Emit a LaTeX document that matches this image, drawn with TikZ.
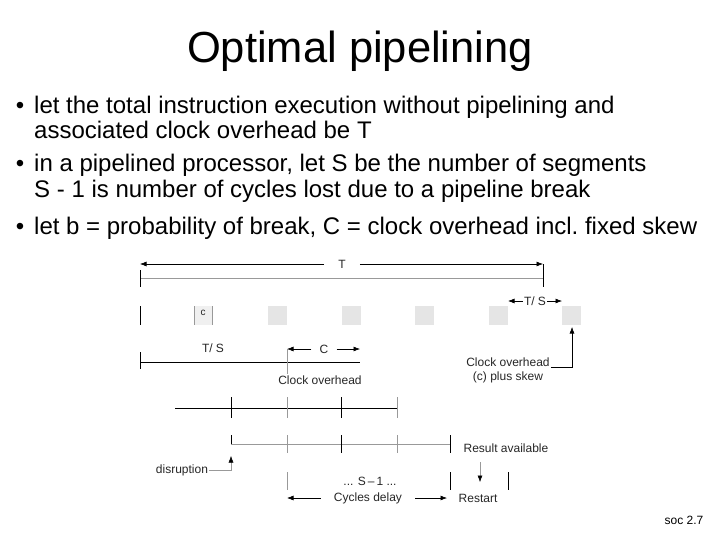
\documentclass[tikz,border=0pt]{standalone}
\usepackage{fontspec}
\setmainfont{Liberation Sans}
\usetikzlibrary{positioning,arrows.meta}
\begin{document}
\begin{tikzpicture}[x=1pt,y=-1pt,>={Latex[length=6.5pt,width=5pt]},
	bul/.style={anchor=base west,inner sep=0pt,font=\fontsize{24}{28}\selectfont},
	lbl/.style={inner sep=1pt,text=black!85,font=\fontsize{12}{14}\selectfont},
	tick/.style={line width=0.6pt},
	faint/.style={draw=black!40,line width=0.5pt},
	slot/.style={fill=black!10,draw=none}]
	\useasboundingbox (0,0) rectangle (720,540);

	\node[anchor=base,inner sep=0pt,font=\fontsize{43.5}{50}\selectfont] (title) at (360,63) {Optimal pipelining};

	\node[bul,anchor=base] (dot1) at (20,114) {•};
	\node[bul] (txt1) at (34,114) {let the total instruction execution without pipelining and};
	\node[bul] (txt2) at (34,139) {associated clock overhead be T};
	\node[bul,anchor=base] (dot2) at (20,172) {•};
	\node[bul] (txt3) at (34,172) {in a pipelined processor, let S be the number of segments};
	\node[bul] (txt4) at (34,197) {S - 1 is number of cycles lost due to a pipeline break};
	\node[bul,anchor=base] (dot3) at (20,235) {•};
	\node[bul] (txt5) at (34,235) {let b = probability of break, C = clock overhead incl.\ fixed skew};

	%total time T
	\coordinate (tL) at (140,264);
	\coordinate (tR) at (543,264);
	\node[lbl,fill=white,inner xsep=14pt] (tT) at (342,264) {T};
	\draw[tick,->] (tT) -- (tL);
	\draw[tick,->] (tT) -- (tR);
	\draw[faint] (140,278) -- (543,278);%grey time line
	\draw[tick] (140,270) -- (140,287);
	\draw[tick] (543,264) -- (543,287);

	%segments with clock overhead
	\draw[tick] (140,306) -- (140,325);
	\fill[black!6] (194,306) rectangle (212,325);
	\draw[faint] (194,306) -- (194,325);
	\draw[faint] (212,306) -- (212,325);
	\node[lbl,font=\fontsize{10}{12}\selectfont] (cbox) at (203,313) {c};
	\foreach \i in {0,...,4}
		\fill[slot] (268+73.5*\i,306) rectangle ++(19,19);

	%one segment
	\coordinate (sL) at (508,301);
	\coordinate (sR) at (562,301);
	\node[lbl] (tS) at (535,301) {T/ S};
	\draw[tick,->] (tS) -- (sL);
	\draw[tick,->] (tS) -- (sR);

	\node[lbl] (coA) at (508,362) {Clock overhead};
	\node[lbl] (coB) at (508,377) {(c) plus skew};
	\coordinate (ck) at (572,327);
	\draw[tick,->] (coA.south east) -| (ck);

	%T/S and C
	\node[lbl] (tS2) at (213,348) {T/ S};
	\coordinate (cL) at (287,349);
	\coordinate (cR) at (360,349);
	\node[lbl,inner xsep=8pt] (cC) at (324,349) {C};
	\draw[tick,->] (cC) -- (cL);
	\draw[tick,->] (cC) -- (cR);
	\draw[tick] (140,362) -- (360,362);
	\draw[tick] (140,352) -- (140,369);
	\draw[faint] (287,349) -- (287,374);
	\node[lbl] (coC) at (320,380) {Clock overhead};

	%pipeline break
	\draw[tick] (175,408) -- (397,408);
	\draw[tick] (231,397) -- (231,418);
	\draw[faint] (287,397) -- (287,418);
	\draw[tick] (341,397) -- (341,418);
	\draw[faint] (397,397) -- (397,418);

	\draw[faint] (231,444) -- (450,444);
	\draw[tick] (231,435) -- (231,444);
	\draw[faint] (287,435) -- (287,453);
	\draw[tick] (341,435) -- (341,453);
	\draw[faint] (397,435) -- (397,453);
	\draw[tick] (450,435) -- (450,453);

	\node[lbl] (dis) at (182,470) {disruption};
	\coordinate (dTip) at (231,456);
	\draw[faint,-{Latex[black,length=6.5pt,width=5pt]}] (dis.east) -| (dTip);

	\draw[faint] (287,472) -- (287,490);
	\draw[tick] (450,472) -- (450,490);
	\draw[tick] (508,472) -- (508,490);

	\node[lbl] (sm1) at (370,481) {... S\,–\,1 ...};
	\node[lbl] (cyc) at (368,498) {Cycles delay};
	\coordinate (yL) at (287,498);
	\coordinate (yR) at (447,498);
	\draw[tick,->] (cyc.west) ++(-12,0) -- (yL);
	\draw[tick,->] (cyc.east) ++(12,0) -- (yR);
	\node[lbl] (rst) at (478,498) {Restart};
	\node[lbl] (res) at (506,448) {Result available};
	\coordinate (rTip) at (480,482);
	\draw[faint,-{Latex[black,length=6.5pt,width=5pt]}] (480,462) -- (rTip);

	\node[lbl,text=black] (soc) at (684,520) {soc 2.7};
\end{tikzpicture}
\end{document}
